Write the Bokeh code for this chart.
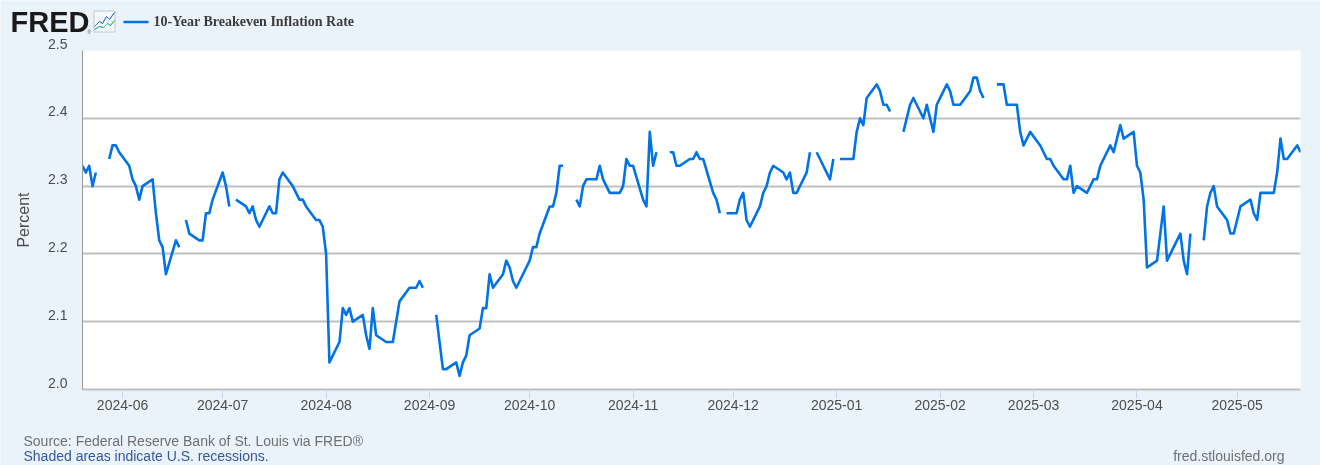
import numpy as np
import pandas as pd
from bokeh.plotting import figure
from bokeh.embed import file_html
from bokeh.resources import INLINE
from bokeh.models import FixedTicker, Label, PolyAnnotation

START = "2024-05-20"
END = "2025-05-20"
N = None
# one row per week, Monday to Friday; None marks a market holiday
weeks = [
    [2.33, 2.32, 2.33, 2.30, 2.32],
    [N, 2.34, 2.36, 2.36, 2.35],
    [2.33, 2.31, 2.30, 2.28, 2.30],
    [2.31, 2.26, 2.22, 2.21, 2.17],
    [2.22, 2.21, N, 2.25, 2.23],
    [2.22, 2.22, 2.26, 2.26, 2.28],
    [2.32, 2.30, 2.27, N, 2.28],
    [2.27, 2.26, 2.27, 2.25, 2.24],
    [2.27, 2.26, 2.26, 2.31, 2.32],
    [2.30, 2.29, 2.28, 2.28, 2.27],
    [2.25, 2.25, 2.24, 2.20, 2.04],
    [2.07, 2.12, 2.11, 2.12, 2.10],
    [2.11, 2.08, 2.06, 2.12, 2.08],
    [2.07, 2.07, 2.07, 2.10, 2.13],
    [2.15, 2.15, 2.15, 2.16, 2.15],
    [N, 2.11, 2.07, 2.03, 2.03],
    [2.04, 2.02, 2.04, 2.05, 2.08],
    [2.09, 2.12, 2.12, 2.17, 2.15],
    [2.17, 2.19, 2.18, 2.16, 2.15],
    [2.18, 2.19, 2.21, 2.21, 2.23],
    [2.27, 2.27, 2.29, 2.33, 2.33],
    [N, 2.28, 2.27, 2.30, 2.31],
    [2.31, 2.33, 2.31, 2.30, 2.29],
    [2.29, 2.30, 2.34, 2.33, 2.33],
    [2.28, 2.27, 2.38, 2.33, 2.35],
    [N, 2.35, 2.35, 2.33, 2.33],
    [2.34, 2.34, 2.35, 2.34, 2.34],
    [2.29, 2.28, 2.26, N, 2.26],
    [2.26, 2.28, 2.29, 2.25, 2.24],
    [2.27, 2.29, 2.30, 2.32, 2.33],
    [2.32, 2.31, 2.32, 2.29, 2.29],
    [2.32, 2.35, N, 2.35, 2.34],
    [2.31, 2.34, N, 2.34, 2.34],
    [2.34, 2.38, 2.40, 2.39, 2.43],
    [2.45, 2.44, 2.42, 2.42, 2.41],
    [N, 2.38, 2.40, 2.42, 2.43],
    [2.40, 2.42, 2.40, 2.38, 2.42],
    [2.45, 2.44, 2.42, 2.42, 2.42],
    [2.44, 2.46, 2.46, 2.44, 2.43],
    [N, 2.45, 2.45, 2.45, 2.42],
    [2.42, 2.38, 2.36, 2.37, 2.38],
    [2.36, 2.35, 2.34, 2.34, 2.33],
    [2.31, 2.31, 2.33, 2.29, 2.30],
    [2.29, 2.30, 2.31, 2.31, 2.33],
    [2.36, 2.35, 2.37, 2.39, 2.37],
    [2.38, 2.33, 2.32, 2.28, 2.18],
    [2.19, 2.23, 2.27, 2.19, 2.20],
    [2.23, 2.19, 2.17, 2.23, N],
    [2.22, 2.27, 2.29, 2.30, 2.27],
    [2.25, 2.23, 2.23, 2.25, 2.27],
    [2.28, 2.26, 2.25, 2.29, 2.29],
    [2.29, 2.32, 2.37, 2.34, 2.34],
    [2.36, 2.35],
]
y_ticks = [2.0, 2.1, 2.2, 2.3, 2.4, 2.5]
x_tick_labels = ["2024-06", "2024-07", "2024-08", "2024-09", "2024-10", "2024-11",
                 "2024-12", "2025-01", "2025-02", "2025-03", "2025-04", "2025-05"]
series_name = "10-Year Breakeven Inflation Rate"

dates = pd.bdate_range(START, END)
values = np.array([np.nan if v is None else v for w in weeks for v in w], dtype=float)
assert len(dates) == len(values)

BG = "#eaf2fa"
SANS = "Liberation Sans"
LINE = "#0073e6"
TICK_TEXT = "#4d4d4d"

t0 = pd.Timestamp(START).value / 1e6
t1 = pd.Timestamp(END).value / 1e6

def dx(px):
    return t0 + (px - 82) / 1218 * (t1 - t0)

def dy(py):
    return 2.0 + (389 - py) / 339 * 0.5

FIXED = {"position": "fixed", "left": "0px", "top": "0px"}

# Annotations are clipped to a plot's frame, so the texts around the chart live on a
# backdrop figure whose frame fills the page and whose scales continue the chart's.
back = figure(width=1320, height=465, output_backend="svg", toolbar_location=None,
              x_range=(dx(0), dx(1320)), y_range=(dy(465), dy(0)),
              x_axis_location=None, y_axis_location=None,
              min_border_left=0, min_border_right=0, min_border_top=0, min_border_bottom=0,
              background_fill_color=BG, border_fill_color=BG, outline_line_color=None)
back.grid.visible = False
back.styles = FIXED

main = figure(width=1320, height=465, output_backend="svg", toolbar_location=None,
              x_axis_type="datetime",
              x_range=(t0, t1), y_range=(2.0, 2.5),
              min_border_left=82, min_border_right=20, min_border_top=50, min_border_bottom=76,
              background_fill_color="white", border_fill_color=None, outline_line_color=None)
main.styles = FIXED

main.line(dates, values, line_color=LINE, line_width=2.6, line_join="round")

main.xgrid.visible = False
main.ygrid.grid_line_color = "#c0c0c0"
main.ygrid.grid_line_width = 2
main.ygrid.ticker = FixedTicker(ticks=y_ticks)

ya = main.yaxis[0]
ya.ticker = FixedTicker(ticks=y_ticks)
ya.major_tick_line_color = None
ya.minor_tick_line_color = None
ya.axis_line_color = "#999999"
ya.axis_line_width = 1
ya.major_label_standoff = 14
ya.major_label_text_font = SANS
ya.major_label_text_font_size = "14px"
ya.major_label_text_color = None
ya.axis_label = "Percent"
ya.axis_label_standoff = 45
ya.axis_label_text_font = SANS
ya.axis_label_text_font_size = "16px"
ya.axis_label_text_font_style = "normal"
ya.axis_label_text_color = TICK_TEXT

xa = main.xaxis[0]
tick_ms = [pd.Timestamp(s + "-01").value / 1e6 for s in x_tick_labels]
xa.ticker = FixedTicker(ticks=tick_ms)
xa.major_label_overrides = dict(zip(tick_ms, x_tick_labels))
xa.major_tick_in = 0
xa.major_tick_out = 9
xa.major_tick_line_color = "#ccd6eb"
xa.minor_tick_line_color = None
xa.axis_line_color = "#c0c0c0"
xa.axis_line_width = 2
xa.major_label_standoff = 1
xa.major_label_text_font = SANS
xa.major_label_text_font_size = "14px"
xa.major_label_text_color = TICK_TEXT

# y tick labels sit a little above their gridlines
for t in y_ticks:
    back.add_layout(Label(x=t0, y=t, x_offset=-15, y_offset=7, text=f"{t:.1f}", text_align="right",
                          text_baseline="middle", text_font=SANS, text_font_size="14px",
                          text_color=TICK_TEXT))

def tx(x, y, text, **kw):
    back.add_layout(Label(x=dx(x), y=dy(y), text=text, text_baseline="middle", **kw))

def poly(pts, **kw):
    back.add_layout(PolyAnnotation(xs=[dx(a) for a, _ in pts], ys=[dy(b) for _, b in pts], **kw))

def zigzag(pts, color, w=1.0):
    poly(pts + list(reversed(pts)), fill_alpha=0, line_color=color, line_width=w, line_alpha=1)

tx(10, 21, "FRED", text_font=SANS, text_font_size="29px", text_font_style="bold", text_color="#1a1a1a")
tx(87, 31, "®", text_font=SANS, text_font_size="5px", text_color="#555555")
poly([(93.5, 10.5), (114.5, 10.5), (114.5, 31.5), (93.5, 31.5)], fill_color="#f5f8fb", fill_alpha=1,
     line_color="#c8c8c8", line_width=1, line_alpha=1)
zigzag([(94, 26), (99, 21), (102, 23), (106, 16), (109, 19), (114, 12)], "#3d7fd9")
zigzag([(94, 29), (99, 26), (103, 27), (107, 23), (110, 25), (114, 20)], "#3fb58e")
poly([(123, 21.5), (148, 21.5)], fill_alpha=0, line_color=LINE, line_width=2.5, line_alpha=1)
tx(153, 21, series_name, text_font="Liberation Serif", text_font_size="14px", text_font_style="bold",
   text_color="#3c3c3c")
tx(23, 440, "Source: Federal Reserve Bank of St. Louis via FRED®", text_font=SANS, text_font_size="14px",
   text_color="#707070")
tx(23, 455, "Shaded areas indicate U.S. recessions.", text_font=SANS, text_font_size="14px",
   text_color="#35589a")
tx(1284, 455, "fred.stlouisfed.org", text_font=SANS, text_font_size="14px", text_color="#707070",
   text_align="right")

p = [back, main]
open("out.html", "w").write(file_html(p, INLINE))
